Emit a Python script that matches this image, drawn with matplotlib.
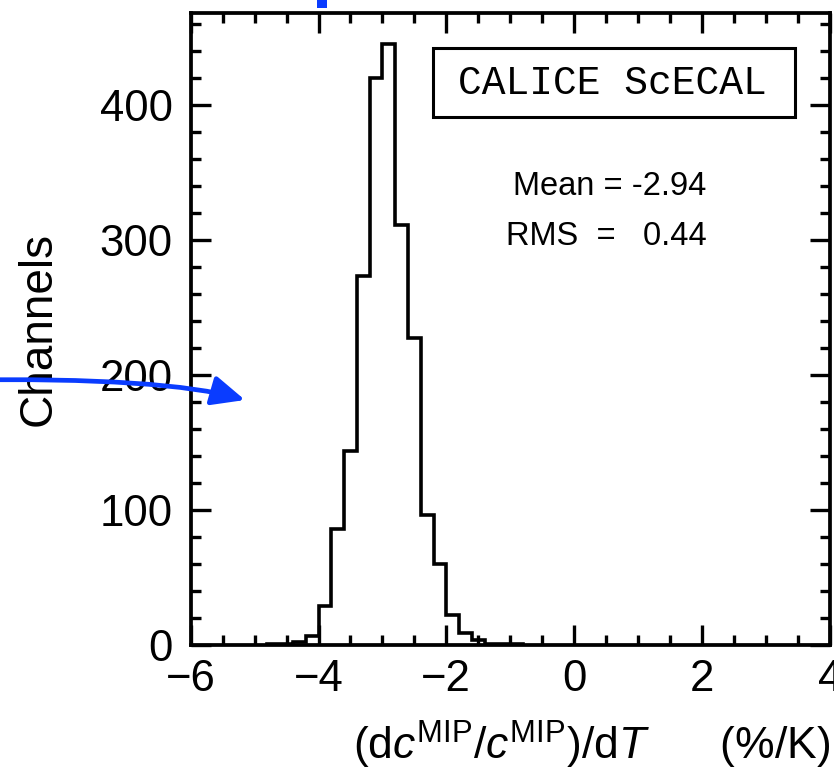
import numpy as np
import matplotlib
matplotlib.use("Agg")
import matplotlib.pyplot as plt
from matplotlib.patches import Rectangle, FancyArrowPatch
from matplotlib.path import Path
from matplotlib.ticker import MultipleLocator

plt.rcParams['font.family'] = ['Liberation Sans', 'DejaVu Sans']
plt.rcParams['mathtext.fontset'] = 'custom'
plt.rcParams['mathtext.rm'] = 'Liberation Sans'
plt.rcParams['mathtext.it'] = 'Liberation Sans:italic'

# histogram of temperature coefficients, bin width 0.2 %/K
bin_edges = np.round(np.arange(-4.8, -0.8 + 0.001, 0.2), 2)
counts = [1, 1, 2, 7, 29, 86, 144, 273, 420, 445,
          311, 227, 96, 60, 22, 9, 4, 1, 1, 1]

mean_txt = "Mean = -2.94"
rms_txt = "RMS  =   0.44"
tag_txt = "CALICE ScECAL"

W, H = 834, 771
fig = plt.figure(figsize=(W / 100, H / 100), dpi=100)
ax = fig.add_axes([190.7 / W, (H - 645) / H, 639 / W, 632 / H])

ax.stairs(counts, bin_edges, color='black', linewidth=2.6, baseline=0, fill=False)

ax.set_xlim(-6, 4)
ax.set_ylim(0, 468)
ax.xaxis.set_major_locator(MultipleLocator(2))
ax.xaxis.set_minor_locator(MultipleLocator(0.5))
ax.yaxis.set_major_locator(MultipleLocator(100))
ax.yaxis.set_minor_locator(MultipleLocator(20))
ax.tick_params(which='both', direction='in', top=True, right=True, width=2.4, labelsize=31.5)
ax.tick_params(which='major', length=14.5)
ax.tick_params(which='minor', length=7.5)
ax.tick_params(axis='x', pad=10)
ax.tick_params(axis='y', pad=13)
for sp in ax.spines.values():
    sp.set_linewidth(2.7)

ax.set_ylabel("Channels", fontsize=33, labelpad=28)

fig.text(830 / W, 1 - 745 / H,
         r'(d$c^{\mathrm{MIP}}$/$c^{\mathrm{MIP}}$)/d$T$      (%/K)',
         fontsize=32, ha='right', va='center')

# label box
ax.add_patch(Rectangle((0.379, 0.8354), 0.5665, 0.1092, transform=ax.transAxes,
                       fill=False, linewidth=2.2, edgecolor='black'))
ax.text(0.6595, 0.889, tag_txt, transform=ax.transAxes, ha='center', va='center',
        fontsize=28.5, family='Liberation Mono')
ax.text(0.656, 0.726, mean_txt, transform=ax.transAxes, ha='center', va='center', fontsize=23.5)
ax.text(0.651, 0.6456, rms_txt, transform=ax.transAxes, ha='center', va='center', fontsize=23.5)

# blue annotation pieces from the surrounding slide
blue = '#0a3cff'
pts = [(-40, 380), (165, 377), (245, 400)]
arrow_path = Path([(x / W, 1 - y / H) for x, y in pts], [Path.MOVETO, Path.CURVE3, Path.CURVE3])
arr = FancyArrowPatch(path=arrow_path, transform=fig.transFigure,
                      arrowstyle='-|>,head_length=1.0,head_width=0.45',
                      mutation_scale=20, color=blue, linewidth=3.4)
fig.patches.append(arr)
fig.patches.append(Rectangle((317 / W, 1 - 8 / H), 10 / W, 8 / H, transform=fig.transFigure,
                             color=blue, linewidth=0))

fig.savefig("out.png", dpi=100)
